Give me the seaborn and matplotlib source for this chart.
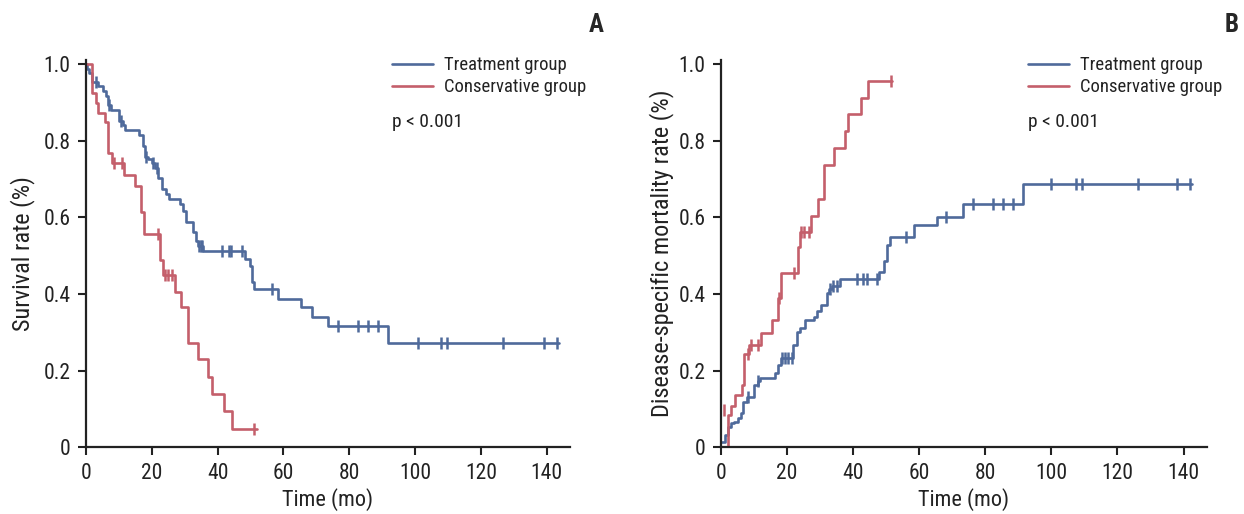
import warnings
warnings.filterwarnings("ignore")
import numpy as np
import pandas as pd
import matplotlib
matplotlib.use("Agg")
import matplotlib.pyplot as plt
import seaborn as sns

# Panel A - survival (step start times / levels)
a_trt_t = [0, 0.3, 1.0, 1.9, 3.7, 5.1, 6.0, 6.8, 7.5, 10.1, 11.2, 11.9, 16.2, 17.2, 17.9, 18.8,
           20.0, 21.0, 22.0, 23.0, 24.3, 25.3, 28.6, 29.6, 30.4, 32.4, 33.4, 34.1, 35.6, 48.3,
           49.8, 50.4, 51.1, 58.4, 65.3, 68.6, 73.6, 91.7, 143.6]
a_trt_s = [1.0, 0.987, 0.978, 0.954, 0.943, 0.930, 0.917, 0.893, 0.880, 0.852, 0.841, 0.828, 0.815,
           0.787, 0.759, 0.752, 0.743, 0.730, 0.704, 0.674, 0.662, 0.648, 0.634, 0.617, 0.588,
           0.561, 0.539, 0.526, 0.513, 0.491, 0.472, 0.432, 0.413, 0.388, 0.365, 0.340, 0.316,
           0.271, 0.271]
a_trt_cens = [3.0, 7.1, 10.5, 18.3, 20.5, 21.5, 34.4, 35.0, 35.3, 41.2, 43.3, 44.0, 47.3, 56.4,
              76.5, 82.6, 85.6, 88.7, 101.0, 107.8, 109.6, 126.8, 139.0, 143.1]

a_con_t = [0, 1.7, 3.0, 3.7, 5.8, 6.8, 7.8, 11.7, 14.9, 16.7, 17.6, 22.6, 23.5, 27.0, 28.9, 31.1,
           33.9, 37.0, 38.4, 42.0, 44.3, 51.9]
a_con_s = [1.0, 0.926, 0.900, 0.872, 0.848, 0.769, 0.743, 0.710, 0.682, 0.613, 0.556, 0.488, 0.449,
           0.406, 0.365, 0.273, 0.230, 0.184, 0.138, 0.095, 0.049, 0.049]
a_con_cens = [8.5, 11.0, 22.0, 24.0, 25.0, 26.0, 51.1]

# Panel B - disease-specific mortality
b_trt_t = [0, 1.2, 2.0, 3.0, 4.0, 5.1, 6.1, 6.8, 7.8, 10.1, 11.1, 11.8, 16.4, 17.2, 18.2, 21.9,
           22.9, 23.9, 25.3, 28.0, 29.0, 30.3, 32.0, 32.7, 33.5, 36.1, 47.7, 49.2, 50.2, 51.2,
           58.4, 65.4, 73.1, 91.3, 142.6]
b_trt_s = [0.015, 0.032, 0.054, 0.063, 0.067, 0.076, 0.089, 0.119, 0.132, 0.163, 0.173, 0.180,
           0.193, 0.215, 0.232, 0.267, 0.302, 0.311, 0.332, 0.341, 0.357, 0.372, 0.402, 0.413,
           0.421, 0.439, 0.458, 0.485, 0.528, 0.548, 0.579, 0.602, 0.635, 0.687, 0.687]
b_trt_cens = [8.3, 11.1, 18.4, 19.4, 20.4, 21.6, 33.0, 34.0, 35.1, 41.1, 43.1, 44.2, 47.2, 56.1,
              68.2, 76.2, 82.3, 85.2, 88.3, 100.0, 107.3, 109.3, 126.2, 138.1, 142.1]

b_con_t = [0, 2.2, 3.0, 4.2, 6.3, 7.1, 8.6, 12.1, 15.4, 17.2, 18.2, 23.2, 23.9, 27.2, 29.5, 31.3,
           34.3, 37.4, 38.3, 42.3, 44.4, 51.7]
b_con_s = [0.0, 0.084, 0.108, 0.137, 0.163, 0.244, 0.267, 0.299, 0.332, 0.389, 0.456, 0.524,
           0.563, 0.605, 0.648, 0.737, 0.781, 0.826, 0.870, 0.913, 0.957, 0.957]
b_con_cens = [8.3, 9.1, 11.1, 17.6, 22.1, 24.2, 25.2, 26.5, 51.5]
# stray censor tick near the origin of panel B
b_con_odd_t = [1.0]
b_con_odd_s = [0.097]

groups = ["Treatment group", "Conservative group"]
palette = {"Treatment group": "#4f6a9b", "Conservative group": "#c45f6b"}

sns.set_style("ticks")
plt.rcParams["font.family"] = ["Roboto Condensed", "DejaVu Sans"]
TXT = "#222222"


def step_value(times, vals, t):
    idx = np.searchsorted(times, t, side="right") - 1
    return np.asarray(vals)[idx]


def curve_df(t, s, name):
    return pd.DataFrame({"time": t, "rate": s, "group": name})


def draw_panel(ax, curves, cens, ylabel, ylab_x, extra=None):
    df = pd.concat([curve_df(t, s, g) for g, (t, s) in zip(groups, curves)])
    sns.lineplot(data=df, x="time", y="rate", hue="group", palette=palette,
                 drawstyle="steps-post", estimator=None, sort=False, linewidth=1.9, ax=ax)
    for g, (t, s), c in zip(groups, curves, cens):
        cy = step_value(t, s, c)
        sns.scatterplot(x=c, y=cy, marker="|", s=70, linewidth=1.8, legend=False,
                        color=palette[g], ax=ax, zorder=3)
    if extra is not None:
        sns.scatterplot(x=extra[0], y=extra[1], marker="|", s=70, linewidth=1.8, legend=False,
                        color=palette["Conservative group"], ax=ax, zorder=3)
    ax.set_xlim(0, 147)
    ax.set_ylim(0, 1.011)
    ax.set_xticks(range(0, 141, 20))
    ax.set_yticks([0, 0.2, 0.4, 0.6, 0.8, 1.0])
    ax.set_yticklabels(["0", "0.2", "0.4", "0.6", "0.8", "1.0"])
    ax.set_xlabel("Time (mo)", fontsize=16, color=TXT, va="center")
    ax.xaxis.set_label_coords(0.5, -0.136)
    ax.set_ylabel(ylabel, fontsize=17.5, color=TXT, va="center")
    ax.yaxis.set_label_coords(ylab_x, 0.5)
    ax.tick_params(axis="both", labelsize=15.5, colors=TXT, length=6, width=1.5, pad=5)
    for sp in ["left", "bottom"]:
        ax.spines[sp].set_linewidth(1.6)
        ax.spines[sp].set_color(TXT)
    sns.despine(ax=ax)
    leg = ax.legend(loc="upper left", bbox_to_anchor=(0.632, 1.009), frameon=False,
                    fontsize=13.4, handlelength=2.2, handletextpad=0.6, labelspacing=0.2,
                    borderpad=0, borderaxespad=0)
    for h in leg.get_lines():
        h.set_linewidth(1.9)
    for tx in leg.get_texts():
        tx.set_color(TXT)
    ax.text(93, 0.849, "p < 0.001", fontsize=14, color=TXT, va="center", ha="left")


fig = plt.figure(figsize=(12.44, 5.14), dpi=100)
ax1 = fig.add_axes([0.0691, 0.1298, 0.389, 0.7535])
ax2 = fig.add_axes([0.5796, 0.1298, 0.3904, 0.7535])

draw_panel(ax1, [(a_trt_t, a_trt_s), (a_con_t, a_con_s)], [a_trt_cens, a_con_cens],
           "Survival rate (%)", -0.131)
draw_panel(ax2, [(b_trt_t, b_trt_s), (b_con_t, b_con_s)], [b_trt_cens, b_con_cens],
           "Disease-specific mortality rate (%)", -0.1235, extra=(b_con_odd_t, b_con_odd_s))

fig.text(0.4795, 0.952, "A", fontsize=18, fontweight="bold", ha="center", va="center")
fig.text(0.9904, 0.952, "B", fontsize=18, fontweight="bold", ha="center", va="center")

fig.savefig("out.png", dpi=100)
